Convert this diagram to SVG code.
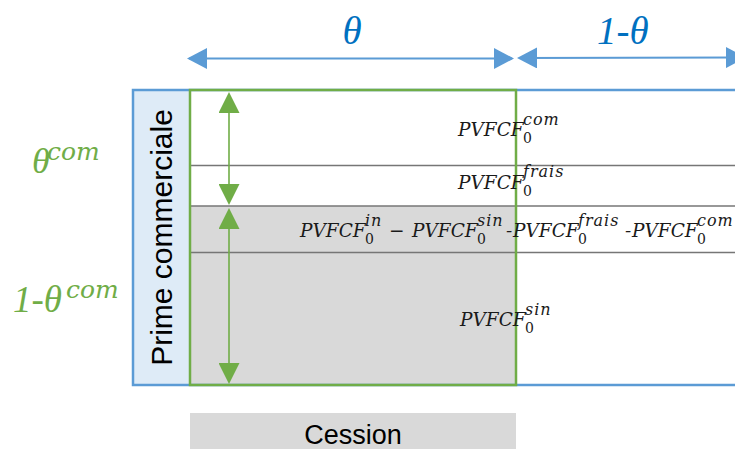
<svg xmlns="http://www.w3.org/2000/svg" width="735" height="449" viewBox="0 0 735 449">
  <style>
    .math { font-family: "DejaVu Serif", "Liberation Serif", serif; font-style: italic; fill: #1a1a1a; }
    .main { font-size: 18.5px; }
    .script { font-size: 16px; letter-spacing: 1px; }
    .sub { font-size: 14px; font-style: normal; letter-spacing: 0; }
    .blue-lbl { font-family: "Liberation Serif", "DejaVu Serif", serif; font-style: italic; fill: #0070C0; font-size: 39px; }
    .green-lbl { font-family: "Liberation Serif", "DejaVu Serif", serif; font-style: italic; fill: #70AD47; }
    .green-sup { font-family: "DejaVu Serif", "Liberation Serif", serif; font-style: italic; fill: #70AD47; font-size: 25px; }
    .sans { font-family: "Liberation Sans", Arial, sans-serif; fill: #000; }
    .row-line { stroke: #767676; stroke-width: 1.5; fill: none; }
    .blue-arrow { stroke: #5B9BD5; stroke-width: 2; fill: none; marker-start: url(#headBlue); marker-end: url(#headBlue); }
    .green-arrow { stroke: #70AD47; stroke-width: 1.6; fill: none; marker-start: url(#headGreen); marker-end: url(#headGreen); }
  </style>
  <defs>
    <marker id="headBlue" markerUnits="userSpaceOnUse" viewBox="0 0 20 21" markerWidth="20" markerHeight="21" refX="18" refY="10.5" orient="auto-start-reverse">
      <path d="M0,0 L20,10.5 L0,21 Z" fill="#5B9BD5"/>
    </marker>
    <marker id="headGreen" markerUnits="userSpaceOnUse" viewBox="0 0 21 21" markerWidth="21" markerHeight="21" refX="19" refY="10.5" orient="auto-start-reverse">
      <path d="M0,0 L21,10.5 L0,21 Z" fill="#70AD47"/>
    </marker>
  </defs>

  <rect width="735" height="449" fill="#fff"/>

  <!-- main block: fills, row separators, borders -->
  <g id="block">
    <rect x="133" y="90" width="57" height="295" fill="#DEEBF7"/>
    <rect x="190" y="206" width="326" height="179" fill="#D9D9D9"/>
    <line class="row-line" x1="190" y1="165.5" x2="745" y2="165.5"/>
    <line class="row-line" x1="190" y1="206" x2="745" y2="206"/>
    <line class="row-line" x1="190" y1="252.5" x2="745" y2="252.5"/>
    <rect x="133" y="90" width="612" height="295" fill="none" stroke="#5B9BD5" stroke-width="2.5"/>
    <rect x="190" y="90" width="326" height="295" fill="none" stroke="#70AD47" stroke-width="2.5"/>
  </g>

  <g id="prime-commerciale">
    <text class="sans" font-size="30" text-anchor="middle" transform="translate(172,237.5) rotate(-90)">Prime commerciale</text>
  </g>

  <!-- row 1: commission -->
  <g id="row-com" class="math">
    <text class="main" x="458" y="136">PVFCF</text>
    <text class="script sub" x="523" y="143">0</text>
    <text class="script" x="523" y="125">com</text>
  </g>

  <!-- row 2: fees -->
  <g id="row-frais" class="math">
    <text class="main" x="458" y="189">PVFCF</text>
    <text class="script sub" x="523" y="196">0</text>
    <text class="script" x="523" y="177">frais</text>
  </g>

  <!-- row 3: margin -->
  <g id="row-marge" class="math">
    <text class="main" x="300" y="237">PVFCF</text>
    <text class="script sub" x="365" y="244">0</text>
    <text class="script" x="365" y="226">in</text>
    <text class="main" x="389" y="237">−</text>
    <text class="main" x="412" y="237">PVFCF</text>
    <text class="script sub" x="477" y="244">0</text>
    <text class="script" x="477" y="226">sin</text>
    <text class="main" x="506" y="237">-</text>
    <text class="main" x="513" y="237">PVFCF</text>
    <text class="script sub" x="578" y="244">0</text>
    <text class="script" x="578" y="226">frais</text>
    <text class="main" x="625" y="237">-</text>
    <text class="main" x="632" y="237">PVFCF</text>
    <text class="script sub" x="697" y="244">0</text>
    <text class="script" x="697" y="226">com</text>
  </g>

  <!-- row 4: claims -->
  <g id="row-sin" class="math">
    <text class="main" x="460" y="326">PVFCF</text>
    <text class="script sub" x="525" y="333">0</text>
    <text class="script" x="525" y="315">sin</text>
  </g>

  <g id="cession">
    <rect x="190" y="413" width="326" height="36" fill="#D9D9D9"/>
    <text class="sans" font-size="27" x="353" y="444" text-anchor="middle">Cession</text>
  </g>

  <g id="theta-labels">
    <text class="blue-lbl" x="352" y="44" text-anchor="middle">θ</text>
    <text class="blue-lbl" x="597" y="44">1-θ</text>
  </g>

  <g id="theta-com-labels">
    <text class="green-lbl" x="32" y="173" font-size="36">θ</text>
    <text class="green-sup" x="47" y="160">com</text>
    <text class="green-lbl" x="13" y="312" font-size="37">1-θ</text>
    <text class="green-sup" x="66" y="298">com</text>
  </g>

  <g id="connectors">
    <line class="blue-arrow" x1="189" y1="58.5" x2="512" y2="58.5"/>
    <line class="blue-arrow" x1="519" y1="58" x2="744" y2="57.5"/>
    <line class="green-arrow" x1="229" y1="94" x2="229" y2="203"/>
    <line class="green-arrow" x1="229" y1="210" x2="229" y2="382"/>
  </g>
</svg>
